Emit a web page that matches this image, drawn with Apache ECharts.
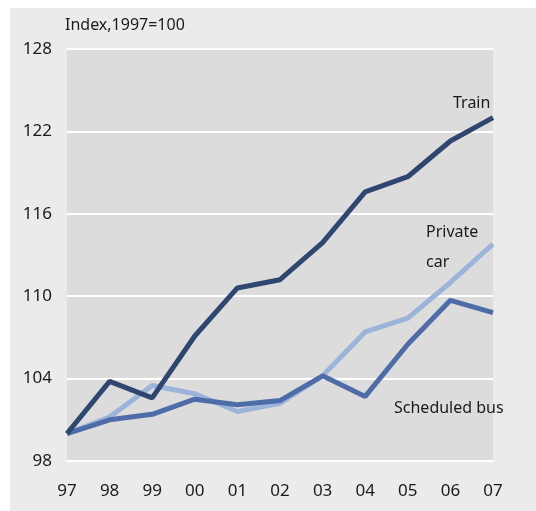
<!DOCTYPE html>
<html>
<head>
<meta charset="utf-8">
<script src="https://cdn.jsdelivr.net/npm/echarts@6/dist/echarts.min.js"></script>
<style>
  html, body { margin: 0; padding: 0; background: #fff; }
  #chart { width: 536px; height: 511px; }
</style>
</head>
<body>
<div id="chart"></div>
<script>
  // data
  var years = ['97', '98', '99', '00', '01', '02', '03', '04', '05', '06', '07'];
  var yTicks = [98, 104, 110, 116, 122, 128];
  var train = [100, 103.8, 102.6, 107.1, 110.6, 111.2, 113.9, 117.6, 118.7, 121.3, 123.0];
  var privateCar = [100, 101.2, 103.5, 102.9, 101.6, 102.2, 104.2, 107.4, 108.4, 111.0, 113.8];
  var bus = [100, 101.0, 101.4, 102.5, 102.1, 102.4, 104.2, 102.7, 106.5, 109.7, 108.8];

  var font = 'Noto Sans';
  var txt = '#1a1a1a';

  var chart = echarts.init(document.getElementById('chart'));
  var option = {
    backgroundColor: '#ebebeb',
    animation: false,
    textStyle: { fontFamily: font },
    grid: {
      show: true,
      left: 67,
      right: 43,
      top: 49,
      bottom: 50,
      backgroundColor: '#dcdcdc',
      borderWidth: 0
    },
    graphic: [
      { type: 'rect', shape: { x: 0, y: 0, width: 10, height: 511 }, style: { fill: '#fff' }, silent: true },
      { type: 'rect', shape: { x: 0, y: 0, width: 536, height: 8 }, style: { fill: '#fff' }, silent: true },
      { type: 'text', left: 65, top: 17, style: { text: 'Index,1997=100', font: '16px "Noto Sans"', fill: txt } },
      { type: 'text', left: 453, top: 95, style: { text: 'Train', font: '16px "Noto Sans"', fill: txt } },
      { type: 'text', left: 426, top: 217, style: { text: 'Private\ncar', font: '16px "Noto Sans"', fill: txt, lineHeight: 30 } },
      { type: 'text', left: 394, top: 400, style: { text: 'Scheduled bus', font: '16px "Noto Sans"', fill: txt } }
    ],
    xAxis: {
      type: 'category',
      data: years,
      boundaryGap: false,
      axisLine: { show: false },
      axisTick: { show: false },
      axisLabel: { color: txt, fontSize: 17, margin: 22 }
    },
    yAxis: {
      type: 'value',
      min: 98,
      max: 128,
      axisLine: { show: false },
      axisTick: { show: false, customValues: yTicks },
      axisLabel: { color: txt, fontSize: 17, margin: 15, customValues: yTicks },
      splitLine: { show: true, lineStyle: { color: '#ffffff', width: 2 } }
    },
    series: [{
      name: 'Private car',
      type: 'line',
      data: privateCar,
      symbol: 'none',
      lineStyle: { color: '#9db4da', width: 5 }
    }, {
      name: 'Scheduled bus',
      type: 'line',
      data: bus,
      symbol: 'none',
      lineStyle: { color: '#4d6ca8', width: 5 }
    }, {
      name: 'Train',
      type: 'line',
      data: train,
      symbol: 'none',
      lineStyle: { color: '#2e4670', width: 5 }
    }]
  };
  chart.setOption(option);
</script>
</body>
</html>
